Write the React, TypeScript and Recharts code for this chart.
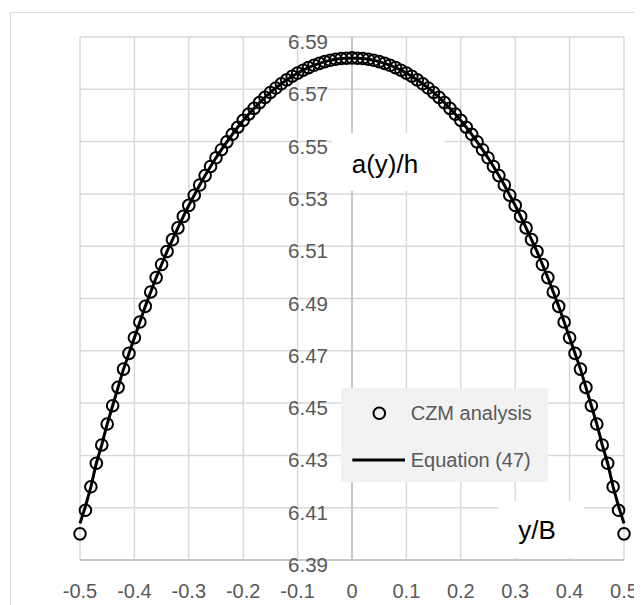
import React from 'react';
import {
  ComposedChart,
  Line,
  XAxis,
  YAxis,
  CartesianGrid,
  ReferenceLine,
  ReferenceDot,
} from 'recharts';

const xValues = [
  -0.5, -0.49, -0.48, -0.47, -0.46, -0.45, -0.44, -0.43, -0.42, -0.41,
  -0.4, -0.39, -0.38, -0.37, -0.36, -0.35, -0.34, -0.33, -0.32, -0.31,
  -0.3, -0.29, -0.28, -0.27, -0.26, -0.25, -0.24, -0.23, -0.22, -0.21,
  -0.2, -0.19, -0.18, -0.17, -0.16, -0.15, -0.14, -0.13, -0.12, -0.11,
  -0.1, -0.09, -0.08, -0.07, -0.06, -0.05, -0.04, -0.03, -0.02, -0.01,
  0,
  0.01, 0.02, 0.03, 0.04, 0.05, 0.06, 0.07, 0.08, 0.09, 0.1,
  0.11, 0.12, 0.13, 0.14, 0.15, 0.16, 0.17, 0.18, 0.19, 0.2,
  0.21, 0.22, 0.23, 0.24, 0.25, 0.26, 0.27, 0.28, 0.29, 0.3,
  0.31, 0.32, 0.33, 0.34, 0.35, 0.36, 0.37, 0.38, 0.39, 0.4,
  0.41, 0.42, 0.43, 0.44, 0.45, 0.46, 0.47, 0.48, 0.49, 0.5,
];

const czmValues = [
  6.4, 6.409, 6.418, 6.427, 6.434, 6.442, 6.449, 6.456, 6.463, 6.469,
  6.475, 6.481, 6.487, 6.4925, 6.498, 6.503, 6.508, 6.5125, 6.517, 6.5214,
  6.5256, 6.5295, 6.5334, 6.537, 6.5405, 6.5438, 6.5469, 6.5499, 6.5528, 6.5555,
  6.5581, 6.5605, 6.5627, 6.5649, 6.5669, 6.5688, 6.5705, 6.5721, 6.5736, 6.575,
  6.5762, 6.5773, 6.5783, 6.5792, 6.5799, 6.5806, 6.5811, 6.5815, 6.5818, 6.5819,
  6.582,
  6.5819, 6.5818, 6.5815, 6.5811, 6.5806, 6.5799, 6.5792, 6.5783, 6.5773, 6.5762,
  6.575, 6.5736, 6.5721, 6.5705, 6.5688, 6.5669, 6.5649, 6.5627, 6.5605, 6.5581,
  6.5555, 6.5528, 6.5499, 6.5469, 6.5438, 6.5405, 6.537, 6.5334, 6.5295, 6.5256,
  6.5214, 6.517, 6.5125, 6.508, 6.503, 6.498, 6.4925, 6.487, 6.481, 6.475,
  6.469, 6.463, 6.456, 6.449, 6.442, 6.434, 6.427, 6.418, 6.409, 6.4,
];

const equationValues = [
  6.404, 6.4105, 6.418, 6.427, 6.434, 6.442, 6.449, 6.456, 6.463, 6.469,
  6.475, 6.481, 6.487, 6.4925, 6.498, 6.503, 6.508, 6.5125, 6.517, 6.5214,
  6.5256, 6.5295, 6.5334, 6.537, 6.5405, 6.5438, 6.5469, 6.5499, 6.5528, 6.5555,
  6.5581, 6.5605, 6.5627, 6.5649, 6.5669, 6.5688, 6.5705, 6.5721, 6.5736, 6.575,
  6.5762, 6.5773, 6.5783, 6.5792, 6.5799, 6.5806, 6.5811, 6.5815, 6.5818, 6.5819,
  6.582,
  6.5819, 6.5818, 6.5815, 6.5811, 6.5806, 6.5799, 6.5792, 6.5783, 6.5773, 6.5762,
  6.575, 6.5736, 6.5721, 6.5705, 6.5688, 6.5669, 6.5649, 6.5627, 6.5605, 6.5581,
  6.5555, 6.5528, 6.5499, 6.5469, 6.5438, 6.5405, 6.537, 6.5334, 6.5295, 6.5256,
  6.5214, 6.517, 6.5125, 6.508, 6.503, 6.498, 6.4925, 6.487, 6.481, 6.475,
  6.469, 6.463, 6.456, 6.449, 6.442, 6.434, 6.427, 6.418, 6.4105, 6.404,
];

const xTicks = [-0.5, -0.4, -0.3, -0.2, -0.1, 0, 0.1, 0.2, 0.3, 0.4, 0.5];
const yTicks = [6.39, 6.41, 6.43, 6.45, 6.47, 6.49, 6.51, 6.53, 6.55, 6.57, 6.59];
const yTickLabels = ['6.39', '6.41', '6.43', '6.45', '6.47', '6.49', '6.51', '6.53', '6.55', '6.57', '6.59'];

const seriesNames = ['CZM analysis', 'Equation (47)'];
const yTitle = 'a(y)/h';
const xTitle = 'y/B';

const rows = xValues.map((x, i) => ({ x, czm: czmValues[i], eq: equationValues[i] }));

const FONT = '"Liberation Sans", Arial, sans-serif';
const TICK_COLOR = '#595959';

const YTickLabel = (props: any) => {
  const vb = props.viewBox || { x: 0, y: 0, width: 0, height: 0 };
  const cx = vb.x + (vb.width || 0) / 2;
  const cy = vb.y + (vb.height || 0) / 2;
  return (
    <text x={cx - 24} y={cy + 12} textAnchor="end" fill={TICK_COLOR} fontSize={20.5} fontFamily={FONT}>
      {props.value}
    </text>
  );
};

const Txt = ({ left, baseline, size, color, children }: any) => (
  <div
    style={{
      position: 'absolute',
      left,
      top: baseline - 0.8465 * size,
      fontFamily: FONT,
      fontSize: size,
      lineHeight: `${size}px`,
      color,
      whiteSpace: 'nowrap',
    }}
  >
    {children}
  </div>
);

export default function App() {
  return (
    <div style={{ position: 'relative', width: 634, height: 597 }}>
      <div
        style={{
          position: 'absolute',
          left: 2,
          top: 4,
          width: 630,
          height: 620,
          border: '1px solid #d9d9d9',
          boxSizing: 'border-box',
        }}
      />
      <div style={{ position: 'absolute', left: 0, top: 0 }}>
        <ComposedChart
          width={634}
          height={597}
          data={rows}
          margin={{ top: 29, right: 18, left: 72, bottom: 15 }}
        >
          <CartesianGrid stroke="#d9d9d9" strokeWidth={1.5} />
          <XAxis
            type="number"
            dataKey="x"
            domain={[-0.5, 0.5]}
            ticks={xTicks}
            interval={0}
            height={30}
            tickLine={false}
            tickSize={0}
            tickMargin={24}
            axisLine={{ stroke: '#bfbfbf', strokeWidth: 1.5 }}
            tick={{ fill: TICK_COLOR, fontSize: 20, fontFamily: FONT }}
            tickFormatter={(v: number) => String(v)}
          />
          <YAxis type="number" hide domain={[6.39, 6.59]} ticks={yTicks} />
          <ReferenceLine x={0} stroke="#bfbfbf" strokeWidth={1.5} />
          {yTicks.map((t, i) => (
            <ReferenceDot
              key={t}
              x={0}
              y={t}
              r={0.5}
              fill="none"
              stroke="none"
              ifOverflow="visible"
              label={{ value: yTickLabels[i], content: YTickLabel }}
            />
          ))}
          <Line
            dataKey="czm"
            name={seriesNames[0]}
            stroke="none"
            isAnimationActive={false}
            dot={{ r: 5.8, fill: 'none', stroke: '#000000', strokeWidth: 2 }}
            activeDot={false}
          />
          <Line
            dataKey="eq"
            name={seriesNames[1]}
            type="linear"
            stroke="#000000"
            strokeWidth={3}
            dot={false}
            activeDot={false}
            isAnimationActive={false}
          />
        </ComposedChart>
      </div>

      {/* y-axis title with white box */}
      <div style={{ position: 'absolute', left: 324, top: 125, width: 113, height: 58, background: '#ffffff' }} />
      <Txt left={343.7} baseline={164.7} size={26} color="#000000">{yTitle}</Txt>

      {/* x-axis title with white box */}
      <div style={{ position: 'absolute', left: 490, top: 493, width: 86, height: 57, background: '#ffffff' }} />
      <Txt left={510.3} baseline={531.3} size={26} color="#000000">{xTitle}</Txt>

      {/* legend */}
      <div style={{ position: 'absolute', left: 333, top: 380, width: 207, height: 94, background: '#f2f2f2' }} />
      <svg style={{ position: 'absolute', left: 333, top: 380 }} width={207} height={94}>
        <circle cx={38.3} cy={25.3} r={5.8} fill="none" stroke="#000000" strokeWidth={2} />
        <line x1={11.3} x2={64} y1={72} y2={72} stroke="#000000" strokeWidth={3} />
      </svg>
      <Txt left={402.7} baseline={412.3} size={20} color={TICK_COLOR}>{seriesNames[0]}</Txt>
      <Txt left={402.7} baseline={459} size={20} color={TICK_COLOR}>{seriesNames[1]}</Txt>
    </div>
  );
}
